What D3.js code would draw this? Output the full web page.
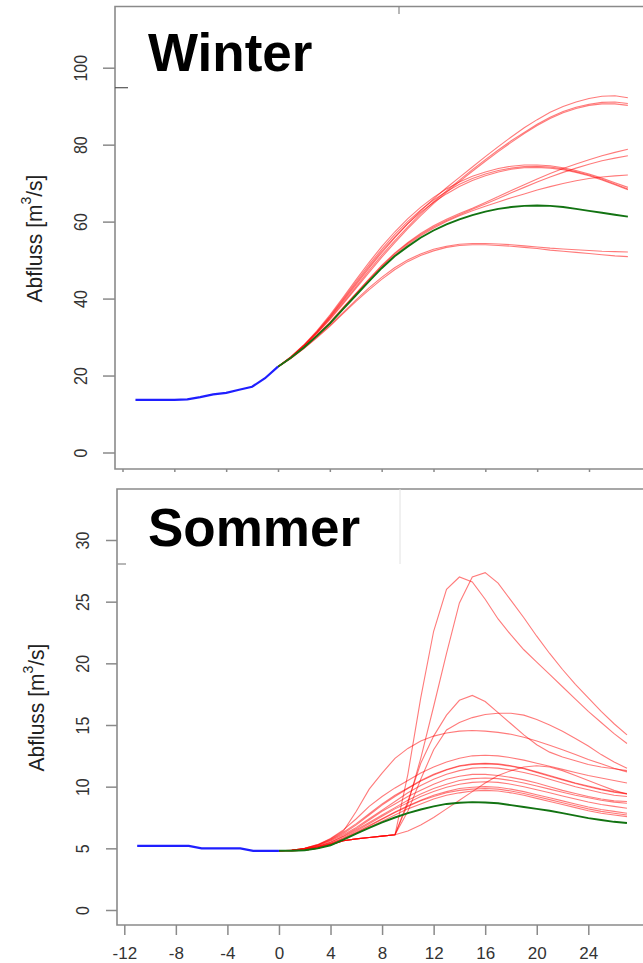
<!DOCTYPE html>
<html>
<head>
<meta charset="utf-8">
<script src="https://cdn.jsdelivr.net/npm/d3@7"></script>
<style>
  html, body { margin: 0; padding: 0; background: #fff; }
  svg { display: block; font-family: "Liberation Sans", Arial, sans-serif; }
</style>
</head>
<body>
<svg id="chart" width="643" height="963"></svg>
<script>
// ---- time axes (hours relative to forecast start) ----
const obsHours  = [-11, -10, -9, -8, -7, -6, -5, -4, -3, -2, -1, 0];
const leadHours = [0, 1, 2, 3, 4, 5, 6, 7, 8, 9, 10, 11, 12, 13, 14, 15, 16, 17, 18, 19, 20, 21, 22, 23, 24, 25, 26, 27];
const xTicks = [-12, -8, -4, 0, 4, 8, 12, 16, 20, 24];

// ---- Winter event ----
const winterYTicks = [0, 20, 40, 60, 80, 100];
const winterObserved = [13.7, 13.7, 13.7, 13.7, 13.8, 14.4, 15.1, 15.5, 16.3, 17.1, 19.3, 22.3];
const winterReference = [22.3, 24.6, 27.3, 30.3, 33.5, 37.2, 40.8, 44.4, 47.9, 51.0, 53.5, 55.8, 57.7, 59.3, 60.6, 61.7, 62.6, 63.3, 63.8, 64.1, 64.2, 64.1, 63.8, 63.3, 62.8, 62.3, 61.8, 61.3];
const winterA1 = [22.3, 24.8, 27.8, 31.2, 35.0, 39.2, 43.5, 47.8, 51.9, 55.8, 59.4, 62.8, 65.9, 68.8, 71.5, 74.2, 76.9, 79.5, 82.0, 84.4, 86.5, 88.4, 89.9, 91.1, 92.0, 92.6, 92.7, 92.2];
const winterA2 = [22.3, 24.8, 27.7, 31.0, 34.7, 38.8, 43.0, 47.2, 51.2, 55.0, 58.6, 62.0, 65.1, 68.0, 70.8, 73.5, 76.1, 78.6, 81.0, 83.2, 85.3, 87.1, 88.6, 89.7, 90.5, 91.0, 91.1, 90.7];
const winterA3 = [22.3, 24.7, 27.6, 30.9, 34.5, 38.5, 42.6, 46.7, 50.7, 54.5, 58.1, 61.5, 64.7, 67.6, 70.4, 73.1, 75.7, 78.2, 80.6, 82.9, 85.0, 86.8, 88.3, 89.4, 90.2, 90.6, 90.6, 90.2];
const winterB1 = [22.3, 24.9, 28.0, 31.6, 35.7, 40.2, 44.8, 49.3, 53.5, 57.3, 60.7, 63.7, 66.3, 68.5, 70.3, 71.8, 72.9, 73.8, 74.4, 74.7, 74.7, 74.5, 74.0, 73.3, 72.4, 71.3, 70.1, 68.9];
const winterB2 = [22.3, 24.9, 27.9, 31.4, 35.4, 39.8, 44.3, 48.7, 52.8, 56.6, 60.0, 63.0, 65.6, 67.8, 69.7, 71.2, 72.4, 73.3, 73.9, 74.3, 74.4, 74.2, 73.7, 73.0, 72.1, 71.0, 69.8, 68.5];
const winterB3 = [22.3, 24.8, 27.8, 31.3, 35.2, 39.5, 43.9, 48.2, 52.3, 56.0, 59.4, 62.4, 65.0, 67.2, 69.1, 70.7, 71.9, 72.9, 73.6, 74.0, 74.1, 73.9, 73.5, 72.8, 71.9, 70.8, 69.6, 68.3];
const winterC1 = [22.3, 24.6, 27.4, 30.5, 33.8, 37.6, 41.3, 45.0, 48.6, 51.8, 54.5, 56.9, 58.9, 60.6, 62.1, 63.5, 65.0, 66.5, 68.1, 69.6, 71.1, 72.5, 73.8, 75.0, 76.1, 77.1, 78.0, 78.8];
const winterC2 = [22.3, 24.6, 27.4, 30.4, 33.7, 37.5, 41.2, 44.9, 48.4, 51.6, 54.3, 56.6, 58.6, 60.3, 61.8, 63.2, 64.6, 66.0, 67.5, 68.9, 70.3, 71.6, 72.8, 73.9, 74.9, 75.8, 76.5, 77.1];
const winterC3 = [22.3, 24.6, 27.3, 30.4, 33.6, 37.3, 41.0, 44.6, 48.1, 51.3, 54.0, 56.3, 58.3, 60.0, 61.5, 62.8, 64.0, 65.1, 66.2, 67.2, 68.2, 69.1, 69.9, 70.6, 71.2, 71.6, 71.9, 72.1];
const winterD1 = [22.3, 24.5, 27.1, 30.0, 33.0, 36.3, 39.6, 42.7, 45.5, 48.0, 50.0, 51.6, 52.8, 53.6, 54.1, 54.3, 54.3, 54.2, 54.0, 53.7, 53.4, 53.1, 52.9, 52.7, 52.5, 52.3, 52.2, 52.1];
const winterD2 = [22.3, 24.5, 27.0, 29.8, 32.8, 36.0, 39.2, 42.2, 45.0, 47.5, 49.6, 51.2, 52.4, 53.3, 53.8, 54.0, 54.0, 53.8, 53.6, 53.3, 53.0, 52.6, 52.3, 52.0, 51.7, 51.4, 51.1, 50.9];
const winterEnsemble = [winterA1, winterA2, winterA3, winterB1, winterB2, winterB3, winterC1, winterC2, winterC3, winterD1, winterD2];

// ---- Summer event ----
const summerYTicks = [0, 5, 10, 15, 20, 25, 30];
const summerObserved = [5.2, 5.2, 5.2, 5.2, 5.2, 5.0, 5.0, 5.0, 5.0, 4.8, 4.8, 4.8];
const summerReference = [4.8, 4.8, 4.85, 5.0, 5.25, 5.7, 6.2, 6.65, 7.1, 7.5, 7.85, 8.15, 8.4, 8.6, 8.7, 8.75, 8.72, 8.65, 8.5, 8.35, 8.2, 8.05, 7.85, 7.65, 7.45, 7.3, 7.15, 7.05];
const summerR1 = [4.8, 4.8, 4.85, 5.0, 5.3, 5.62, 5.77, 5.88, 5.99, 6.1, 11.0, 17.2, 22.6, 26.0, 27.0, 26.6, 25.2, 23.6, 22.3, 21.1, 20.1, 19.1, 18.1, 17.1, 16.1, 15.2, 14.3, 13.5];
const summerR2 = [4.8, 4.8, 4.85, 5.0, 5.3, 5.62, 5.77, 5.88, 5.99, 6.1, 8.6, 12.3, 16.5, 20.8, 24.9, 27.0, 27.35, 26.5, 25.1, 23.7, 22.2, 20.8, 19.5, 18.3, 17.2, 16.1, 15.1, 14.2];
const summerR3 = [4.8, 4.8, 4.85, 5.0, 5.3, 5.62, 5.77, 5.88, 5.99, 6.1, 8.8, 11.9, 14.1, 15.8, 17.0, 17.4, 16.9, 16.0, 15.1, 14.2, 13.4, 12.8, 12.4, 12.1, 11.8, 11.6, 11.45, 11.3];
const summerR4 = [4.8, 4.8, 4.85, 5.0, 5.3, 5.62, 5.77, 5.88, 5.99, 6.1, 8.0, 10.6, 13.0, 14.6, 15.2, 15.6, 15.85, 15.95, 15.95, 15.8, 15.45, 15.0, 14.5, 13.9, 13.3, 12.6, 12.0, 11.5];
const summerR5 = [4.8, 4.85, 5.0, 5.3, 5.75, 6.4, 8.0, 9.8, 11.1, 12.3, 13.1, 13.7, 14.1, 14.35, 14.5, 14.55, 14.5, 14.4, 14.25, 14.0, 13.7, 13.35, 13.0, 12.6, 12.2, 11.85, 11.5, 11.2];
const summerR6 = [4.8, 4.8, 4.85, 5.0, 5.3, 5.62, 5.77, 5.88, 5.99, 6.1, 6.4, 6.9, 7.5, 8.2, 8.9, 9.6, 10.3, 10.9, 11.3, 11.6, 11.7, 11.6, 11.3, 10.9, 10.5, 10.1, 9.7, 9.4];
const summerB1 = [4.8, 4.85, 5.0, 5.3, 5.8, 6.5, 7.4, 8.4, 9.2, 9.9, 10.5, 11.1, 11.6, 12.0, 12.3, 12.5, 12.55, 12.5, 12.35, 12.15, 11.9, 11.65, 11.4, 11.15, 10.9, 10.7, 10.5, 10.3];
const summerB2 = [4.8, 4.85, 5.0, 5.25, 5.7, 6.3, 7.0, 7.8, 8.6, 9.3, 9.9, 10.5, 11.0, 11.4, 11.7, 11.85, 11.9, 11.85, 11.7, 11.5, 11.2, 10.9, 10.6, 10.3, 10.05, 9.8, 9.6, 9.45];
const summerB2b = [4.8, 4.85, 5.0, 5.25, 5.65, 6.2, 6.9, 7.7, 8.5, 9.2, 9.85, 10.45, 10.95, 11.35, 11.65, 11.8, 11.85, 11.8, 11.65, 11.45, 11.15, 10.85, 10.55, 10.25, 10.0, 9.75, 9.55, 9.4];
const summerB3 = [4.8, 4.85, 4.95, 5.2, 5.6, 6.1, 6.7, 7.4, 8.1, 8.8, 9.5, 10.1, 10.6, 11.0, 11.3, 11.5, 11.55, 11.5, 11.35, 11.15, 10.9, 10.6, 10.3, 10.0, 9.75, 9.5, 9.3, 9.2];
const summerB4 = [4.8, 4.85, 4.95, 5.15, 5.5, 6.0, 6.6, 7.3, 8.0, 8.6, 9.2, 9.7, 10.2, 10.6, 10.85, 11.0, 11.0, 10.9, 10.75, 10.55, 10.3, 10.0, 9.7, 9.45, 9.2, 9.0, 8.85, 8.8];
const summerB5 = [4.8, 4.85, 4.95, 5.15, 5.5, 5.95, 6.5, 7.1, 7.7, 8.3, 8.9, 9.4, 9.85, 10.2, 10.5, 10.65, 10.7, 10.65, 10.5, 10.3, 10.05, 9.8, 9.55, 9.3, 9.1, 8.9, 8.75, 8.65];
const summerB6 = [4.8, 4.85, 4.95, 5.1, 5.4, 5.85, 6.4, 7.0, 7.6, 8.2, 8.7, 9.2, 9.6, 9.95, 10.2, 10.35, 10.4, 10.35, 10.2, 10.0, 9.75, 9.5, 9.25, 9.0, 8.75, 8.55, 8.4, 8.25];
const summerB7 = [4.8, 4.85, 4.9, 5.1, 5.4, 5.8, 6.3, 6.85, 7.4, 7.95, 8.45, 8.9, 9.3, 9.6, 9.85, 9.95, 10.0, 9.95, 9.8, 9.6, 9.35, 9.1, 8.85, 8.6, 8.35, 8.15, 8.0, 7.85];
const summerB8 = [4.8, 4.85, 4.9, 5.1, 5.35, 5.75, 6.25, 6.8, 7.35, 7.9, 8.4, 8.85, 9.2, 9.5, 9.7, 9.8, 9.85, 9.8, 9.65, 9.45, 9.2, 8.95, 8.7, 8.45, 8.2, 8.0, 7.85, 7.7];
const summerB9 = [4.8, 4.85, 4.9, 5.05, 5.3, 5.7, 6.2, 6.7, 7.2, 7.7, 8.2, 8.6, 9.0, 9.3, 9.5, 9.65, 9.7, 9.65, 9.5, 9.3, 9.05, 8.8, 8.55, 8.3, 8.05, 7.85, 7.7, 7.57];
const summerEnsemble = [summerR1, summerR2, summerR3, summerR4, summerR5, summerR6, summerB1, summerB2, summerB2b, summerB3, summerB4, summerB5, summerB6, summerB7, summerB8, summerB9];

const yTitle = ["Abfluss [m", "3", "/s]"];

// ---- styling ----
const axisGrey = "#8a8a8a";
const labelGrey = "#333";
const ensembleColor = "rgba(255, 0, 0, 0.52)";
const referenceColor = "#127312";
const observedColor = "#1f1fff";

// plain hyphen-minus for negative hours
const plainNumber = d => String(d);

const svg = d3.select("#chart");
svg.append("rect").attr("width", 643).attr("height", 963).attr("fill", "#fff");

function drawPanel(p) {
  const g = svg.append("g");
  const x = d3.scaleLinear().domain([-12, 24]).range(p.xRange);
  const y = d3.scaleLinear().domain(p.yDomain).range(p.yRange);

  // frame: top, left and bottom edges (panel continues beyond the right edge)
  g.append("path")
    .attr("d", `M643,${p.top}H${p.left}V${p.bottom}H643`)
    .attr("fill", "none").attr("stroke", axisGrey).attr("stroke-width", 1.6);

  // y axis with rotated labels
  const ya = g.append("g").attr("transform", `translate(${p.left},0)`)
    .call(d3.axisLeft(y).tickValues(p.yTicks).tickSize(p.yTickLen).tickFormat(plainNumber));
  ya.select(".domain").remove();
  ya.selectAll("line").attr("stroke", axisGrey).attr("stroke-width", 1.5);
  ya.selectAll("text")
    .attr("x", 0).attr("dy", null)
    .attr("fill", labelGrey).attr("font-size", 16)
    .attr("text-anchor", "middle").attr("dominant-baseline", "central")
    .attr("transform", `translate(${p.yLabelOffset},0) scale(1.16,1) rotate(-90)`);

  // x axis
  const xa = g.append("g").attr("transform", `translate(0,${p.bottom})`)
    .call(d3.axisBottom(x).tickValues(xTicks).tickSize(p.xTickLen).tickFormat(p.showXLabels ? plainNumber : ""));
  xa.select(".domain").remove();
  xa.selectAll("line").attr("stroke", axisGrey).attr("stroke-width", 1.5);
  xa.selectAll("text")
    .attr("y", 34).attr("dy", null)
    .attr("fill", labelGrey).attr("font-size", 17);

  // y axis title with superscript
  const t = g.append("text")
    .attr("transform", `translate(${p.titleX},${p.titleY}) scale(1.06,1) rotate(-90)`)
    .attr("text-anchor", "middle").attr("dominant-baseline", "central")
    .attr("font-size", 21).attr("fill", "#222");
  t.append("tspan").text(yTitle[0]);
  t.append("tspan").attr("font-size", 14).attr("dy", -8).text(yTitle[1]);
  t.append("tspan").attr("dy", 8).text(yTitle[2]);

  // series
  const line = d3.line().x((d, i) => x(leadHours[i])).y(d => y(d));
  const obsLine = d3.line().x((d, i) => x(obsHours[i])).y(d => y(d));

  g.append("g").selectAll("path").data(p.ensemble).join("path")
    .attr("d", line).attr("fill", "none")
    .attr("stroke", ensembleColor).attr("stroke-width", 1.1);

  g.append("path").datum(p.reference).attr("d", line).attr("fill", "none")
    .attr("stroke", referenceColor).attr("stroke-width", 1.9);

  g.append("path").datum(p.observed).attr("d", obsLine).attr("fill", "none")
    .attr("stroke", observedColor).attr("stroke-width", 2.2);

  // season heading
  g.append("text").attr("x", 148).attr("y", p.headY)
    .attr("font-size", 53).attr("font-weight", "bold").attr("fill", "#000")
    .text(p.heading);

  return g;
}

const winter = drawPanel({
  heading: "Winter", headY: 71,
  xRange: [122.5, 589], yDomain: [0, 100], yRange: [452.5, 67.7],
  top: 6.5, bottom: 469, left: 115,
  yTicks: winterYTicks, yTickLen: 12, yLabelOffset: -34,
  xTickLen: 3, showXLabels: false,
  titleX: 34, titleY: 238.5,
  observed: winterObserved, reference: winterReference, ensemble: winterEnsemble
});

const summer = drawPanel({
  heading: "Sommer", headY: 546,
  xRange: [124.3, 588.3], yDomain: [0, 30], yRange: [910, 540],
  top: 489, bottom: 925, left: 117,
  yTicks: summerYTicks, yTickLen: 11, yLabelOffset: -34.3,
  xTickLen: 10, showXLabels: true,
  titleX: 36, titleY: 707.5,
  observed: summerObserved, reference: summerReference, ensemble: summerEnsemble
});

// edges of the heading boxes laid over the frames
winter.append("line").attr("x1", 115).attr("x2", 128).attr("y1", 87.7).attr("y2", 87.7)
  .attr("stroke", "#555").attr("stroke-width", 1.2);
winter.append("line").attr("x1", 399).attr("x2", 399).attr("y1", 6.5).attr("y2", 14)
  .attr("stroke", "#888").attr("stroke-width", 1.2);
summer.append("line").attr("x1", 117).attr("x2", 126).attr("y1", 564).attr("y2", 564)
  .attr("stroke", "#999").attr("stroke-width", 1.4);
summer.append("line").attr("x1", 400).attr("x2", 400).attr("y1", 489).attr("y2", 564)
  .attr("stroke", "#e2e2e2").attr("stroke-width", 1);
</script>
</body>
</html>
